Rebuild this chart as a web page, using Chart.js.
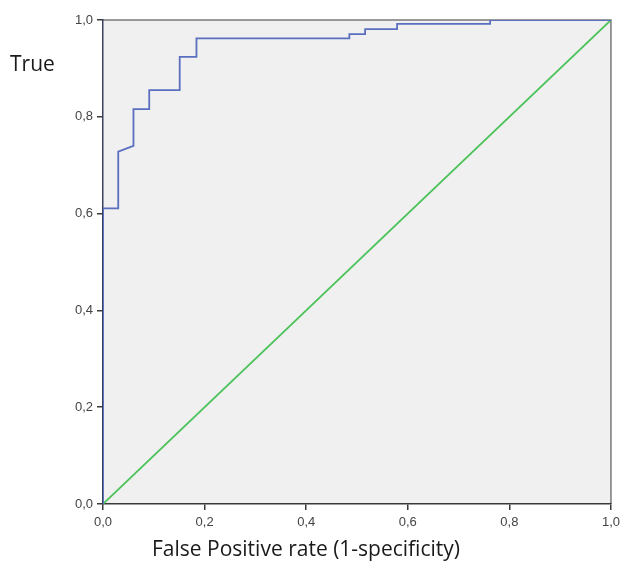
<!DOCTYPE html>
<html>
<head>
<meta charset="utf-8">
<script src="https://cdn.jsdelivr.net/npm/chart.js@4"></script>
<style>
  html, body { margin: 0; padding: 0; background: #fff; }
  #wrap { width: 625px; height: 563px; position: relative; }
</style>
</head>
<body>
<div id="wrap"><canvas id="roc"></canvas></div>
<script>
// ROC curve
const fpr = [0, 0, 0.030, 0.030, 0.060, 0.060, 0.091, 0.091, 0.151, 0.151, 0.184, 0.184,
  0.485, 0.485, 0.516, 0.516, 0.579, 0.579, 0.762, 0.762, 1];
const tpr = [0, 0.611, 0.611, 0.728, 0.740, 0.816, 0.816, 0.855, 0.855, 0.924, 0.924, 0.962,
  0.962, 0.971, 0.971, 0.981, 0.981, 0.992, 0.992, 1, 1];
const refX = [0, 1];
const refY = [0, 1];
const tickValues = [0, 0.2, 0.4, 0.6, 0.8, 1.0];
const xTitle = "False Positive rate (1-specificity)";
const yTitle = "True";

const toPoints = (xs, ys) => xs.map((x, i) => ({ x, y: ys[i] }));
const fmt = (v) => v.toFixed(1).replace(".", ",");

// grey plot area, frame and the two axis titles (both sit off-centre in the original)
const plotBg = {
  id: "plotBg",
  beforeDraw(chart) {
    const { ctx, chartArea: a } = chart;
    ctx.save();
    ctx.fillStyle = "#f0f0f0";
    ctx.fillRect(a.left, a.top, a.right - a.left, a.bottom - a.top);
    ctx.strokeStyle = "#7a7a7a";
    ctx.lineWidth = 1.5;
    ctx.beginPath();
    ctx.moveTo(a.left, a.top);
    ctx.lineTo(a.right, a.top);
    ctx.lineTo(a.right, a.bottom);
    ctx.stroke();
    ctx.restore();
  },
  afterDraw(chart) {
    const { ctx, chartArea: a } = chart;
    ctx.save();
    ctx.fillStyle = "#1a1a1a";
    ctx.font = "21px 'Open Sans'";
    ctx.textBaseline = "middle";
    ctx.fillText(yTitle, 10, a.top + 45);
    ctx.textAlign = "center";
    ctx.fillText(xTitle, a.left + 203, a.bottom + 46);
    ctx.restore();
  },
};

new Chart(document.getElementById("roc"), {
  type: "scatter",
  data: {
    datasets: [
      {
        data: toPoints(fpr, tpr),
        showLine: true,
        borderColor: "#5a6fc0",
        borderWidth: 1.8,
        pointRadius: 0,
        fill: false,
      },
      {
        data: toPoints(refX, refY),
        showLine: true,
        borderColor: "#4cc35a",
        borderWidth: 1.8,
        pointRadius: 0,
        fill: false,
      },
    ],
  },
  options: {
    responsive: true,
    maintainAspectRatio: false,
    animation: false,
    layout: { padding: { top: 20, right: 13, left: 0, bottom: 0 } },
    plugins: {
      legend: { display: false },
      tooltip: { enabled: false },
    },
    scales: {
      x: {
        type: "linear",
        min: 0,
        max: 1,
        afterBuildTicks: (s) => { s.ticks = tickValues.map((v) => ({ value: v })); },
        afterFit: (s) => { s.height = 59; },
        border: { color: "#3a3a3a", width: 1.5 },
        grid: { drawOnChartArea: false, tickLength: 6, color: "#3a3a3a", lineWidth: 1.5 },
        ticks: {
          color: "#444",
          font: { family: "Arial, 'Liberation Sans'", size: 13 },
          padding: 5,
          callback: (v) => fmt(v),
        },
      },
      y: {
        type: "linear",
        min: 0,
        max: 1,
        afterBuildTicks: (s) => { s.ticks = tickValues.map((v) => ({ value: v })); },
        afterFit: (s) => { s.width = 103; },
        border: { color: "#3a4060", width: 1.5 },
        grid: { drawOnChartArea: false, tickLength: 6, color: "#3a3a3a", lineWidth: 1.5 },
        ticks: {
          color: "#444",
          font: { family: "Arial, 'Liberation Sans'", size: 13 },
          padding: 4,
          callback: (v) => fmt(v),
        },
      },
    },
  },
  plugins: [plotBg],
});
</script>
</body>
</html>
